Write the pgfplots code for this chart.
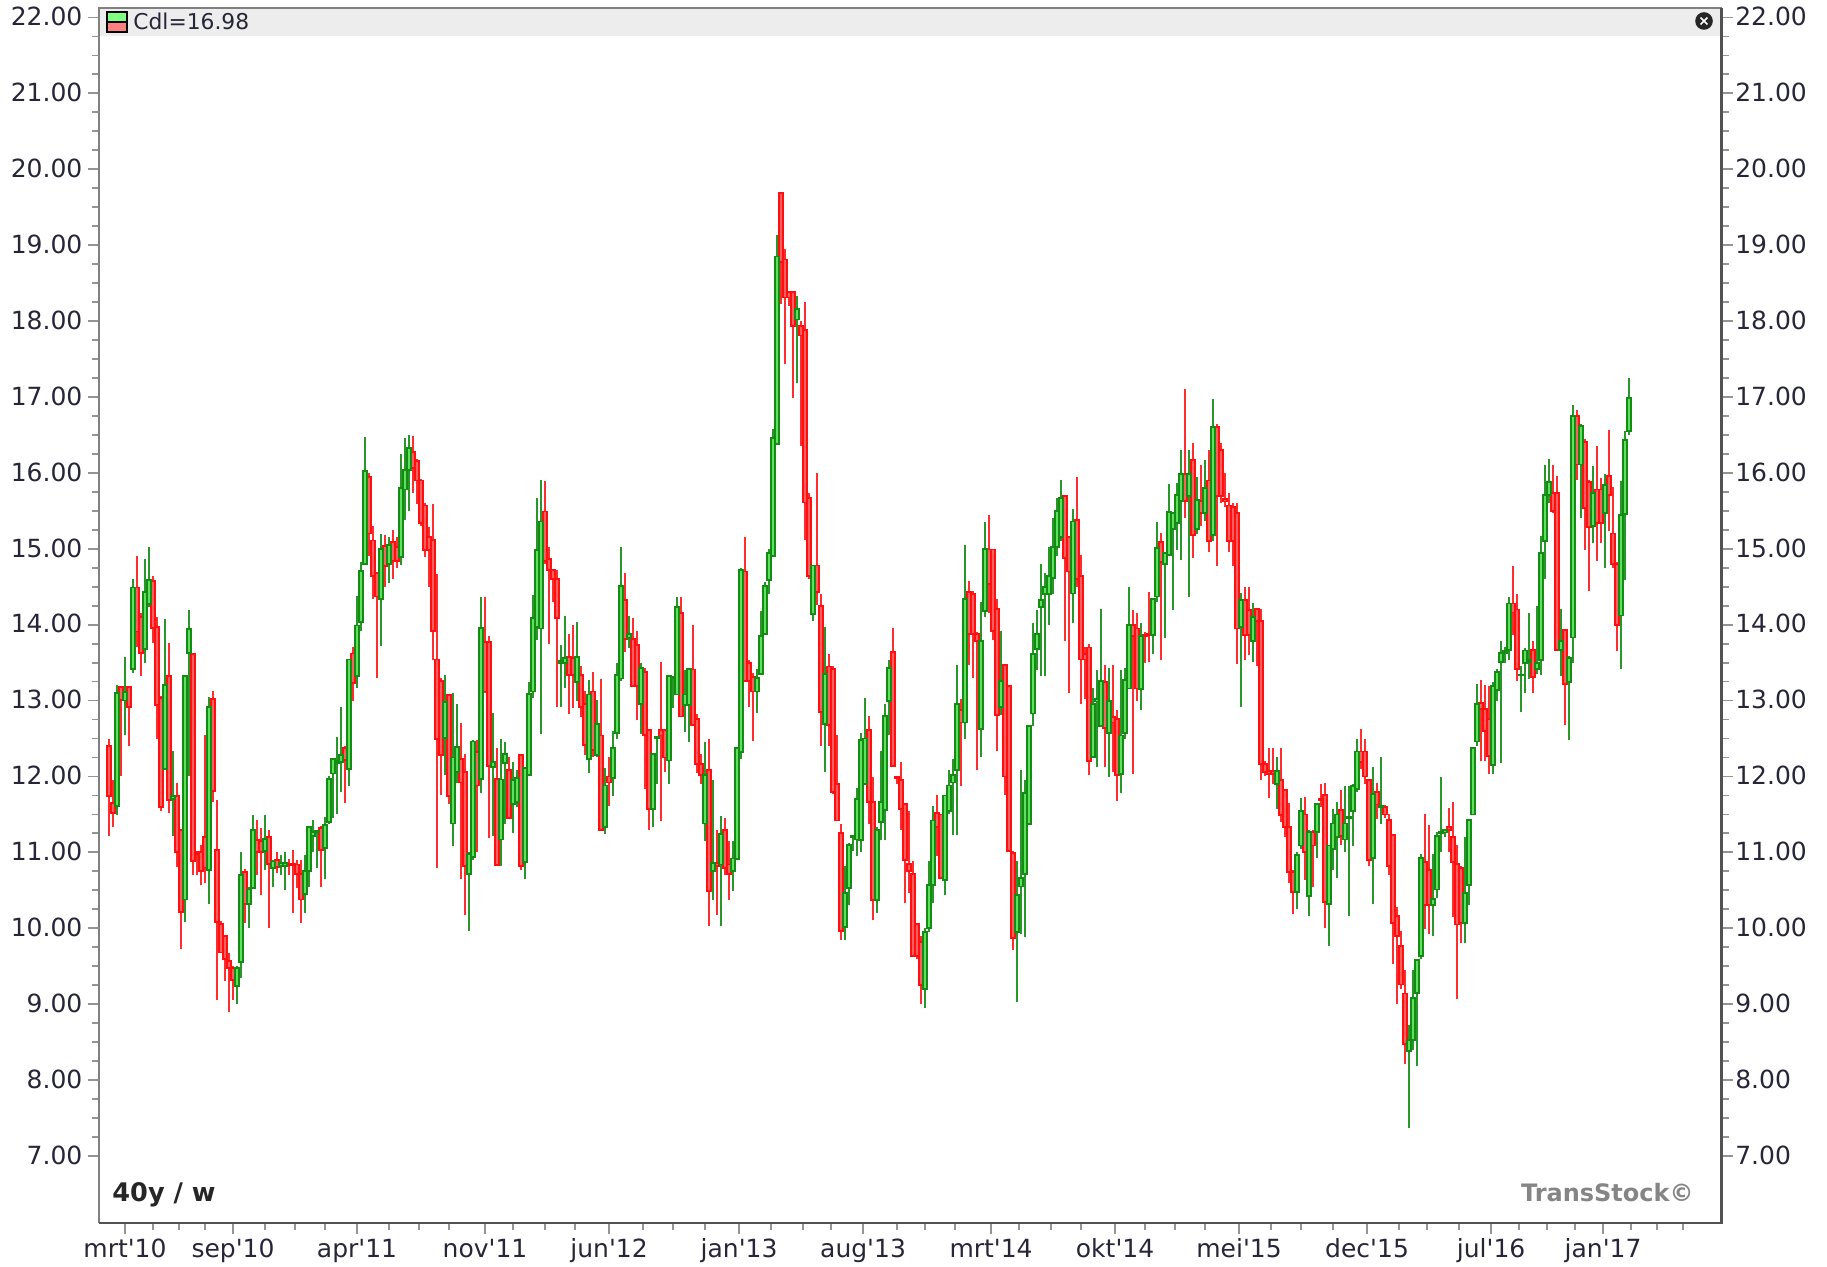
\documentclass[border=0pt]{standalone}
\usepackage{pgfplots}
\usepackage{pgfplotstable}
\usepackage{fontspec}
\pgfplotsset{compat=1.18}
\setmainfont{DejaVu Sans}[Ligatures=TeXOff]
\definecolor{gwick}{RGB}{40,150,40}
\definecolor{gedge}{RGB}{20,140,20}
\definecolor{gfill}{RGB}{95,225,95}
\definecolor{rwick}{RGB}{255,45,45}
\definecolor{redge}{RGB}{255,15,15}
\definecolor{rfill}{RGB}{255,95,95}
\definecolor{lab}{RGB}{38,38,56}
\pgfplotstableread{
i o h l c
0 12.40 12.50 11.21 11.74
1 11.65 11.95 11.34 11.52
2 11.61 13.21 11.49 13.10
3 13.18 13.18 12.00 13.01
4 13.00 13.57 12.55 13.11
5 13.18 13.18 12.40 12.92
6 13.42 14.60 13.36 14.49
7 14.49 14.90 13.71 13.91
8 14.10 14.15 13.33 13.63
9 13.68 14.86 13.50 14.43
10 14.27 15.02 14.23 14.59
11 14.58 14.64 13.76 13.96
12 13.97 14.10 12.50 12.94
13 13.03 13.06 11.55 11.60
14 12.10 14.07 12.10 13.21
15 13.32 13.76 11.52 11.69
16 11.70 12.33 11.22 11.74
17 11.74 11.92 10.81 11.00
18 11.29 11.29 9.73 10.21
19 10.38 13.33 10.08 13.32
20 13.63 14.19 12.00 13.94
21 13.61 13.63 10.70 10.89
22 11.00 11.00 10.70 10.98
23 11.00 11.10 10.57 10.75
24 11.20 12.55 10.60 10.80
25 10.77 13.05 10.32 12.92
26 13.02 13.12 11.67 11.81
27 11.03 11.69 9.05 10.08
28 10.06 10.10 9.68 9.68
29 9.90 9.90 9.30 9.60
30 9.57 9.68 8.90 9.48
31 9.48 9.50 9.05 9.32
32 9.24 9.50 9.00 9.48
33 9.56 11.00 9.34 10.70
34 10.74 10.78 10.07 10.32
35 10.32 10.55 10.00 10.51
36 10.53 11.49 10.53 11.29
37 11.16 11.43 10.70 11.00
38 11.15 11.32 10.44 11.00
39 11.02 11.49 10.77 11.18
40 11.20 11.29 10.00 10.85
41 10.79 10.90 10.54 10.88
42 10.90 11.00 10.73 10.81
43 10.82 10.97 10.70 10.86
44 10.82 11.00 10.50 10.86
45 10.85 10.91 10.70 10.83
46 10.85 11.03 10.20 10.83
47 10.84 10.90 10.53 10.72
48 10.72 10.90 10.07 10.38
49 10.45 10.97 10.20 10.75
50 10.75 11.35 10.55 11.33
51 11.22 11.43 11.00 11.27
52 11.27 11.30 10.80 11.28
53 11.32 11.35 10.55 11.03
54 11.06 11.47 10.65 11.36
55 11.40 12.00 11.38 11.97
56 12.04 12.24 11.45 12.23
57 12.18 12.52 11.50 12.20
58 12.19 12.92 11.80 12.28
59 12.37 12.40 11.65 12.22
60 12.10 13.55 11.88 13.54
61 13.62 13.71 12.99 13.23
62 13.32 14.38 13.17 13.99
63 14.03 14.83 13.91 14.71
64 14.80 16.47 14.78 16.02
65 15.95 16.00 14.90 15.20
66 15.11 15.30 14.34 14.64
67 14.68 14.70 13.30 14.37
68 14.34 15.20 13.72 15.00
69 15.04 15.18 14.50 14.77
70 14.80 15.15 14.55 15.05
71 15.09 15.25 14.60 14.84
72 15.02 15.15 14.75 14.84
73 14.89 16.25 14.79 15.80
74 15.78 16.46 15.38 16.04
75 16.04 16.50 15.50 16.33
76 16.28 16.49 15.74 16.06
77 16.16 16.18 15.59 15.90
78 15.90 15.92 15.30 15.34
79 15.57 15.60 14.89 14.98
80 15.15 15.29 14.50 14.98
81 15.12 15.59 13.54 13.92
82 13.54 14.67 10.79 12.49
83 13.26 13.30 11.76 12.28
84 12.51 13.34 12.02 12.98
85 13.07 13.07 11.64 11.74
86 11.38 13.10 11.08 12.25
87 12.06 12.96 11.92 12.39
88 12.23 12.70 10.65 11.92
89 12.06 12.30 10.18 10.82
90 10.72 11.00 9.97 10.98
91 10.94 12.48 10.90 12.46
92 12.32 12.48 11.00 11.88
93 11.97 14.36 11.78 13.96
94 13.77 14.36 13.10 13.12
95 13.77 13.85 11.19 12.14
96 12.13 12.84 11.22 12.19
97 11.97 12.38 10.83 10.83
98 11.17 12.49 10.82 11.96
99 12.18 12.46 11.38 12.30
100 12.09 12.25 11.45 11.45
101 11.64 12.19 11.26 11.95
102 11.66 12.09 11.60 11.98
103 12.28 12.30 10.77 10.82
104 10.87 12.11 10.65 12.11
105 12.02 13.24 12.02 13.09
106 13.12 14.39 13.03 14.09
107 13.97 15.67 13.80 14.98
108 13.95 15.91 12.56 15.36
109 15.49 15.89 14.80 14.84
110 14.87 15.02 13.74 14.72
111 14.72 14.72 14.30 14.60
112 14.60 14.72 12.91 14.09
113 13.50 13.73 12.91 13.52
114 13.50 14.12 13.17 13.56
115 13.57 13.88 12.82 13.34
116 13.56 13.99 12.90 13.34
117 13.24 14.04 13.00 13.57
118 13.34 13.45 12.79 12.91
119 12.96 13.12 12.28 12.41
120 12.23 13.27 12.05 13.08
121 13.12 13.38 12.25 12.35
122 12.28 13.01 12.25 12.69
123 12.54 13.29 11.29 11.30
124 11.33 12.11 11.24 11.88
125 12.00 12.25 11.61 11.92
126 11.98 12.60 11.74 12.38
127 12.57 13.50 12.50 13.34
128 13.29 15.02 13.26 14.51
129 14.32 14.68 13.64 13.81
130 13.82 14.11 13.69 13.88
131 13.81 14.09 13.19 13.19
132 13.73 13.92 12.75 13.19
133 12.96 13.50 12.56 13.43
134 13.38 13.43 11.83 12.55
135 12.61 12.63 11.29 11.57
136 11.57 12.30 11.33 12.30
137 12.50 12.52 11.90 12.52
138 12.61 13.51 11.41 12.54
139 12.61 12.63 12.06 12.25
140 12.21 13.34 11.90 13.32
141 13.30 13.31 12.90 13.31
142 13.08 14.36 13.08 14.23
143 14.15 14.36 12.79 12.79
144 12.94 13.40 12.58 13.08
145 12.94 13.42 12.46 13.42
146 13.41 14.00 12.68 12.68
147 12.76 12.82 12.04 12.16
148 12.16 12.30 11.90 12.02
149 11.38 12.46 11.15 12.02
150 12.09 12.49 10.03 10.49
151 10.75 11.95 10.37 10.86
152 10.86 11.29 10.18 10.82
153 10.84 11.48 10.03 11.24
154 11.30 11.45 10.70 10.79
155 10.84 11.15 10.37 10.72
156 10.75 11.15 10.49 10.92
157 10.91 12.38 10.90 12.38
158 12.32 14.75 12.23 14.72
159 14.70 15.15 13.24 13.26
160 13.50 13.54 12.91 13.26
161 13.31 13.36 12.47 13.12
162 13.12 13.41 12.84 13.30
163 13.35 14.18 13.35 13.85
164 13.88 14.56 13.88 14.51
165 14.59 15.00 14.40 14.94
166 14.91 16.58 14.90 16.46
167 16.38 19.13 16.38 18.85
168 19.69 19.69 18.22 18.78
169 18.81 18.95 17.43 18.31
170 18.38 18.38 18.20 18.31
171 18.38 18.38 16.98 17.93
172 18.02 18.33 17.19 18.16
173 17.93 18.00 16.36 17.81
174 17.88 18.25 15.12 15.61
175 15.67 15.74 14.60 14.64
176 14.14 14.78 14.05 14.78
177 14.78 16.00 14.26 14.43
178 14.25 14.40 12.40 12.85
179 12.69 13.97 12.06 13.35
180 13.45 13.61 12.40 12.68
181 13.42 13.45 11.77 11.80
182 11.90 12.54 11.42 11.42
183 11.26 11.37 9.85 9.96
184 10.02 10.82 9.85 10.47
185 10.53 11.13 10.30 11.10
186 11.20 11.22 11.02 11.22
187 11.17 11.85 10.95 11.70
188 11.16 12.57 11.00 12.48
189 11.90 13.03 11.90 12.50
190 12.61 12.80 11.37 11.66
191 11.66 11.99 10.11 10.37
192 10.37 11.33 10.20 11.30
193 11.40 12.33 11.16 11.66
194 11.56 12.95 11.16 12.80
195 12.99 13.54 12.54 13.43
196 13.64 13.95 12.13 12.14
197 12.00 12.00 11.90 11.98
198 11.95 12.19 11.30 11.57
199 11.64 11.64 10.33 10.90
200 10.85 11.54 10.47 10.75
201 10.71 10.88 9.64 9.64
202 10.06 10.06 9.60 9.64
203 9.82 9.90 9.00 9.25
204 9.20 10.00 8.95 9.95
205 10.00 10.88 9.95 10.57
206 10.57 11.61 10.33 11.42
207 11.52 11.75 10.95 11.33
208 11.50 11.50 10.66 10.66
209 10.64 11.75 10.44 11.75
210 11.54 12.09 11.50 11.88
211 11.92 12.23 11.23 12.02
212 12.09 13.47 11.23 12.95
213 12.88 13.02 11.88 12.71
214 12.71 15.05 12.50 14.34
215 14.43 14.57 13.47 13.88
216 14.40 14.45 13.30 13.88
217 13.88 13.90 12.09 13.78
218 12.62 14.30 12.26 13.79
219 14.18 15.35 14.10 15.00
220 14.99 15.45 14.16 14.54
221 14.99 14.99 13.80 13.92
222 14.21 14.34 12.33 12.81
223 12.92 13.92 12.81 13.26
224 13.47 13.47 11.75 12.00
225 13.19 13.19 11.00 11.02
226 10.99 11.02 9.71 9.87
227 9.95 10.88 9.03 10.44
228 10.55 12.09 9.92 10.66
229 10.71 11.95 9.88 11.78
230 11.37 12.66 11.37 12.66
231 12.83 14.02 12.66 13.61
232 13.68 14.19 13.40 13.88
233 14.23 14.80 13.33 14.32
234 14.40 14.68 13.33 14.50
235 14.40 15.02 13.99 14.64
236 14.62 15.40 14.40 15.02
237 15.02 15.67 14.90 15.50
238 15.16 15.90 15.10 15.67
239 15.70 15.70 13.78 14.88
240 15.16 15.16 13.10 14.70
241 14.41 15.52 14.02 15.36
242 15.38 15.95 14.50 14.60
243 14.64 14.92 12.95 13.54
244 13.61 13.70 13.02 13.54
245 13.70 13.75 12.02 12.20
246 12.26 13.16 12.26 12.95
247 12.99 13.40 12.13 13.02
248 12.67 14.20 12.67 13.26
249 13.24 13.47 12.13 12.64
250 12.57 13.43 11.99 12.99
251 12.78 13.47 12.06 12.71
252 12.76 12.88 11.68 12.02
253 12.03 13.40 11.78 12.54
254 12.57 13.43 12.50 13.27
255 13.16 14.50 13.16 14.00
256 14.00 14.19 12.03 13.85
257 13.95 14.16 13.00 13.16
258 13.15 14.02 12.88 13.85
259 13.86 13.90 13.50 13.85
260 13.88 14.43 13.51 13.86
261 13.86 14.34 13.62 14.34
262 14.37 15.35 14.30 15.01
263 15.09 15.21 13.54 14.83
264 14.80 14.94 13.83 14.94
265 14.92 15.85 14.90 15.48
266 15.26 15.47 14.19 15.47
267 15.34 15.87 14.99 15.71
268 15.63 16.30 14.85 15.98
269 15.98 17.10 15.40 15.63
270 15.69 16.30 14.37 15.98
271 16.17 16.40 14.88 15.18
272 15.26 15.95 15.20 15.64
273 15.63 16.10 15.30 15.47
274 15.47 16.17 15.36 15.80
275 15.90 16.30 14.96 15.10
276 15.18 16.97 15.10 16.60
277 16.60 16.65 14.77 15.69
278 16.30 16.40 15.60 15.69
279 15.66 16.00 15.55 15.63
280 15.57 15.74 14.96 15.10
281 15.55 15.60 14.77 15.10
282 15.47 15.60 13.48 13.95
283 13.97 14.42 12.92 14.32
284 14.33 14.50 13.54 13.86
285 14.19 14.50 13.60 13.86
286 13.78 14.28 13.51 14.10
287 14.21 14.21 13.45 14.05
288 14.05 14.21 11.95 12.16
289 12.16 12.20 12.00 12.06
290 12.07 12.38 11.71 12.03
291 12.07 12.38 11.90 12.03
292 11.90 12.25 11.57 12.07
293 11.95 12.38 11.40 11.49
294 11.82 11.84 11.20 11.33
295 11.33 11.65 10.60 10.74
296 10.74 10.77 10.19 10.48
297 10.48 11.00 10.26 10.97
298 11.09 11.72 11.05 11.54
299 11.50 11.73 10.63 11.00
300 10.43 11.30 10.16 11.27
301 11.27 11.30 10.55 11.09
302 11.27 11.64 10.93 11.64
303 11.71 11.90 11.60 11.69
304 11.76 11.92 10.00 10.35
305 10.32 11.10 9.76 11.09
306 11.04 11.57 10.77 11.38
307 11.20 11.66 10.66 11.50
308 11.56 11.82 11.10 11.22
309 11.17 11.87 11.00 11.38
310 11.45 11.87 10.16 11.47
311 11.54 11.90 11.09 11.87
312 11.84 12.49 11.80 12.33
313 12.33 12.62 12.10 12.19
314 12.33 12.50 11.90 12.00
315 11.95 11.97 10.82 10.90
316 10.93 12.13 10.32 11.77
317 11.80 11.92 11.44 11.63
318 11.59 12.25 11.38 11.61
319 11.60 11.62 11.45 11.50
320 11.43 11.50 10.70 10.82
321 11.23 11.24 9.53 10.07
322 10.16 10.28 9.00 9.90
323 9.77 9.96 9.20 9.26
324 9.14 9.45 8.21 8.47
325 8.38 8.72 7.37 8.53
326 8.53 9.45 8.40 9.08
327 9.15 9.60 8.19 9.58
328 9.64 10.98 9.60 10.93
329 10.87 11.50 9.99 10.31
330 10.77 11.36 9.93 10.31
331 10.31 10.98 9.90 10.39
332 10.51 11.27 10.40 11.22
333 11.25 11.99 11.00 11.27
334 11.27 11.30 11.20 11.30
335 11.33 11.59 11.00 11.30
336 11.20 11.67 10.15 10.87
337 10.85 11.10 9.07 10.05
338 10.79 10.82 9.80 10.07
339 10.07 11.20 9.80 10.46
340 10.57 11.44 10.30 11.43
341 11.50 12.38 11.50 12.38
342 12.46 13.22 12.40 12.95
343 12.97 13.27 12.20 12.89
344 12.89 13.20 12.20 12.60
345 12.76 13.19 12.03 12.27
346 12.15 13.24 12.03 13.19
347 13.14 13.41 13.00 13.38
348 13.51 13.78 12.18 13.63
349 13.63 13.70 13.50 13.65
350 13.67 14.36 13.54 14.28
351 14.28 14.77 13.86 14.16
352 14.20 14.40 13.26 13.42
353 13.33 13.46 12.85 13.34
354 13.49 13.69 13.10 13.66
355 13.51 14.16 13.29 13.53
356 13.67 13.78 13.10 13.31
357 13.42 14.25 13.35 13.49
358 13.53 15.17 13.34 14.94
359 15.10 16.11 14.60 15.71
360 15.71 16.18 15.60 15.88
361 15.74 16.11 15.47 15.50
362 15.74 15.96 13.67 13.67
363 13.67 14.20 13.32 13.79
364 13.93 13.93 12.68 13.22
365 13.24 13.59 12.48 13.56
366 13.83 16.89 13.50 16.75
367 16.75 16.83 15.91 16.11
368 16.11 16.65 15.40 16.62
369 16.41 16.45 14.99 15.54
370 15.88 15.90 14.45 15.29
371 15.30 16.09 15.07 15.74
372 15.78 16.35 14.84 15.34
373 15.78 15.93 15.07 15.34
374 15.47 15.99 14.75 15.84
375 15.96 16.56 15.24 15.71
376 15.20 15.81 14.75 14.80
377 14.80 14.83 13.65 14.00
378 14.12 15.89 13.42 15.44
379 15.46 16.55 14.59 16.43
380 16.55 17.25 16.50 16.99
}\candles
\pgfplotsset{
  base/.style={
    at={(49.5pt,22pt)}, anchor=south west,
    width=811.25pt, height=607.5pt, scale only axis,
    xmin=-2.5, xmax=403.1, ymin=6.117, ymax=22.125,
    tick align=outside,
    ytick={7,8,...,22}, minor y tick num=3,
    major tick length=5.5pt, minor tick length=3.5pt,
    every tick/.style={draw=black!42, line width=0.9pt},
    every minor tick/.style={draw=black!42, line width=0.9pt},
    /pgf/number format/.cd, fixed, fixed zerofill, precision=2, assume math mode=true,
    /pgfplots/.cd,
    tick label style={font=\fontsize{12.5}{14}\selectfont, text=lab},
  },
  wick/.style={draw=none, no marks, forget plot,
    error bars/.cd, y dir=plus, y explicit, error mark=none,
    error bar style={line width=0.85pt, line cap=butt, draw=#1}},
  body/.style 2 args={draw=none, no marks, forget plot,
    error bars/.cd, y dir=plus, y explicit, error mark=none,
    error bar style={line width=#2, line cap=butt, draw=#1}},
}
\begin{document}
\begin{tikzpicture}
\path[use as bounding box] (0,0) rectangle (913.5pt,633.5pt);
\begin{axis}[base,
    axis line style={draw=none},
    xtick pos=bottom, ytick pos=left,
    xtick={4,31,62,94,125,157.5,188.5,220.5,251.5,282.5,314.5,345.5,373.5},
    xticklabels={mrt'10,sep'10,apr'11,nov'11,jun'12,jan'13,aug'13,mrt'14,okt'14,mei'15,dec'15,jul'16,jan'17},
    minor xtick={11,17.5,24,39,46.5,54,70,77.5,85,101,109,116.5,133.5,141,149,165.5,173.5,180.5,197,204,211.5,227.5,235.5,243,259,266.5,274,290.5,298,306,322.5,329.5,337.5,352.5,359.5,366.5,380.5,387,393.5},
    xticklabel style={inner sep=0pt, yshift=-2.3pt},
    yticklabel style={inner sep=0pt, xshift=-2.6pt, yshift=0.4pt},
  ]
  \fill[black!7] (axis cs:-2.5,22.125) rectangle (axis cs:403.1,21.756);
  \addplot[wick=rwick] table[x expr={\thisrow{c}<\thisrow{o} ? \thisrow{i} : nan}, y=l, y error plus expr={\thisrow{h}-\thisrow{l}}] {\candles};
  \addplot[body={redge}{3.0pt}] table[x expr={\thisrow{c}<\thisrow{o} ? \thisrow{i} : nan}, y expr={min(\thisrow{o},\thisrow{c})-0.012}, y error plus expr={abs(\thisrow{o}-\thisrow{c})+0.024}] {\candles};
  \addplot[body={rfill}{1.35pt}] table[x expr={\thisrow{c}<\thisrow{o} ? \thisrow{i} : nan}, y expr={min(\thisrow{o},\thisrow{c})+0.012}, y error plus expr={max(abs(\thisrow{o}-\thisrow{c})-0.024,0)}] {\candles};
  \addplot[wick=gwick] table[x expr={\thisrow{c}>=\thisrow{o} ? \thisrow{i} : nan}, y=l, y error plus expr={\thisrow{h}-\thisrow{l}}] {\candles};
  \addplot[body={gedge}{3.0pt}] table[x expr={\thisrow{c}>=\thisrow{o} ? \thisrow{i} : nan}, y expr={min(\thisrow{o},\thisrow{c})-0.012}, y error plus expr={abs(\thisrow{o}-\thisrow{c})+0.024}] {\candles};
  \addplot[body={gfill}{1.35pt}] table[x expr={\thisrow{c}>=\thisrow{o} ? \thisrow{i} : nan}, y expr={min(\thisrow{o},\thisrow{c})+0.012}, y error plus expr={max(abs(\thisrow{o}-\thisrow{c})-0.024,0)}] {\candles};
\end{axis}
\begin{axis}[base,
    axis line style={draw=none},
    xtick=\empty, ytick pos=right, yticklabel pos=right,
    yticklabel style={inner sep=0pt, xshift=1.2pt, yshift=0.4pt},
  ]
\end{axis}
% frame
\draw[black!50, line width=1.1pt] (49.5pt,22pt) -- (49.5pt,629.5pt) -- (860.75pt,629.5pt);
\draw[black!68, line width=1.1pt] (860.75pt,629.5pt) -- (860.75pt,22pt) -- (49.5pt,22pt);
% legend icon
\fill[green!50!white] (53.5pt,627.5pt) rectangle (63.5pt,622.5pt);
\fill[red!50!white] (53.5pt,622.5pt) rectangle (63.5pt,617.5pt);
\draw[black, line width=0.8pt] (53.5pt,627.5pt) rectangle (63.5pt,617.5pt);
\draw[black, line width=0.8pt] (53.5pt,622.5pt) -- (63.5pt,622.5pt);
\node[anchor=west, inner sep=0pt, text=lab, font=\fontsize{10.9}{13}\selectfont] at (66.5pt,623pt) {Cdl=16.98};
% close icon
\fill[black!85] (852pt,623pt) circle (4.4pt);
\draw[white, line width=0.8pt] (850.3pt,621.3pt) -- (853.7pt,624.7pt) (850.3pt,624.7pt) -- (853.7pt,621.3pt);
\node[anchor=west, inner sep=0pt, font=\bfseries\fontsize{12.8}{15}\selectfont, text=black!85] at (56pt,36pt) {40y / w};
\node[anchor=east, inner sep=0pt, font=\bfseries\fontsize{12}{14}\selectfont, text=black!48] at (847pt,37pt) {TransStock©};
\end{tikzpicture}
\end{document}
